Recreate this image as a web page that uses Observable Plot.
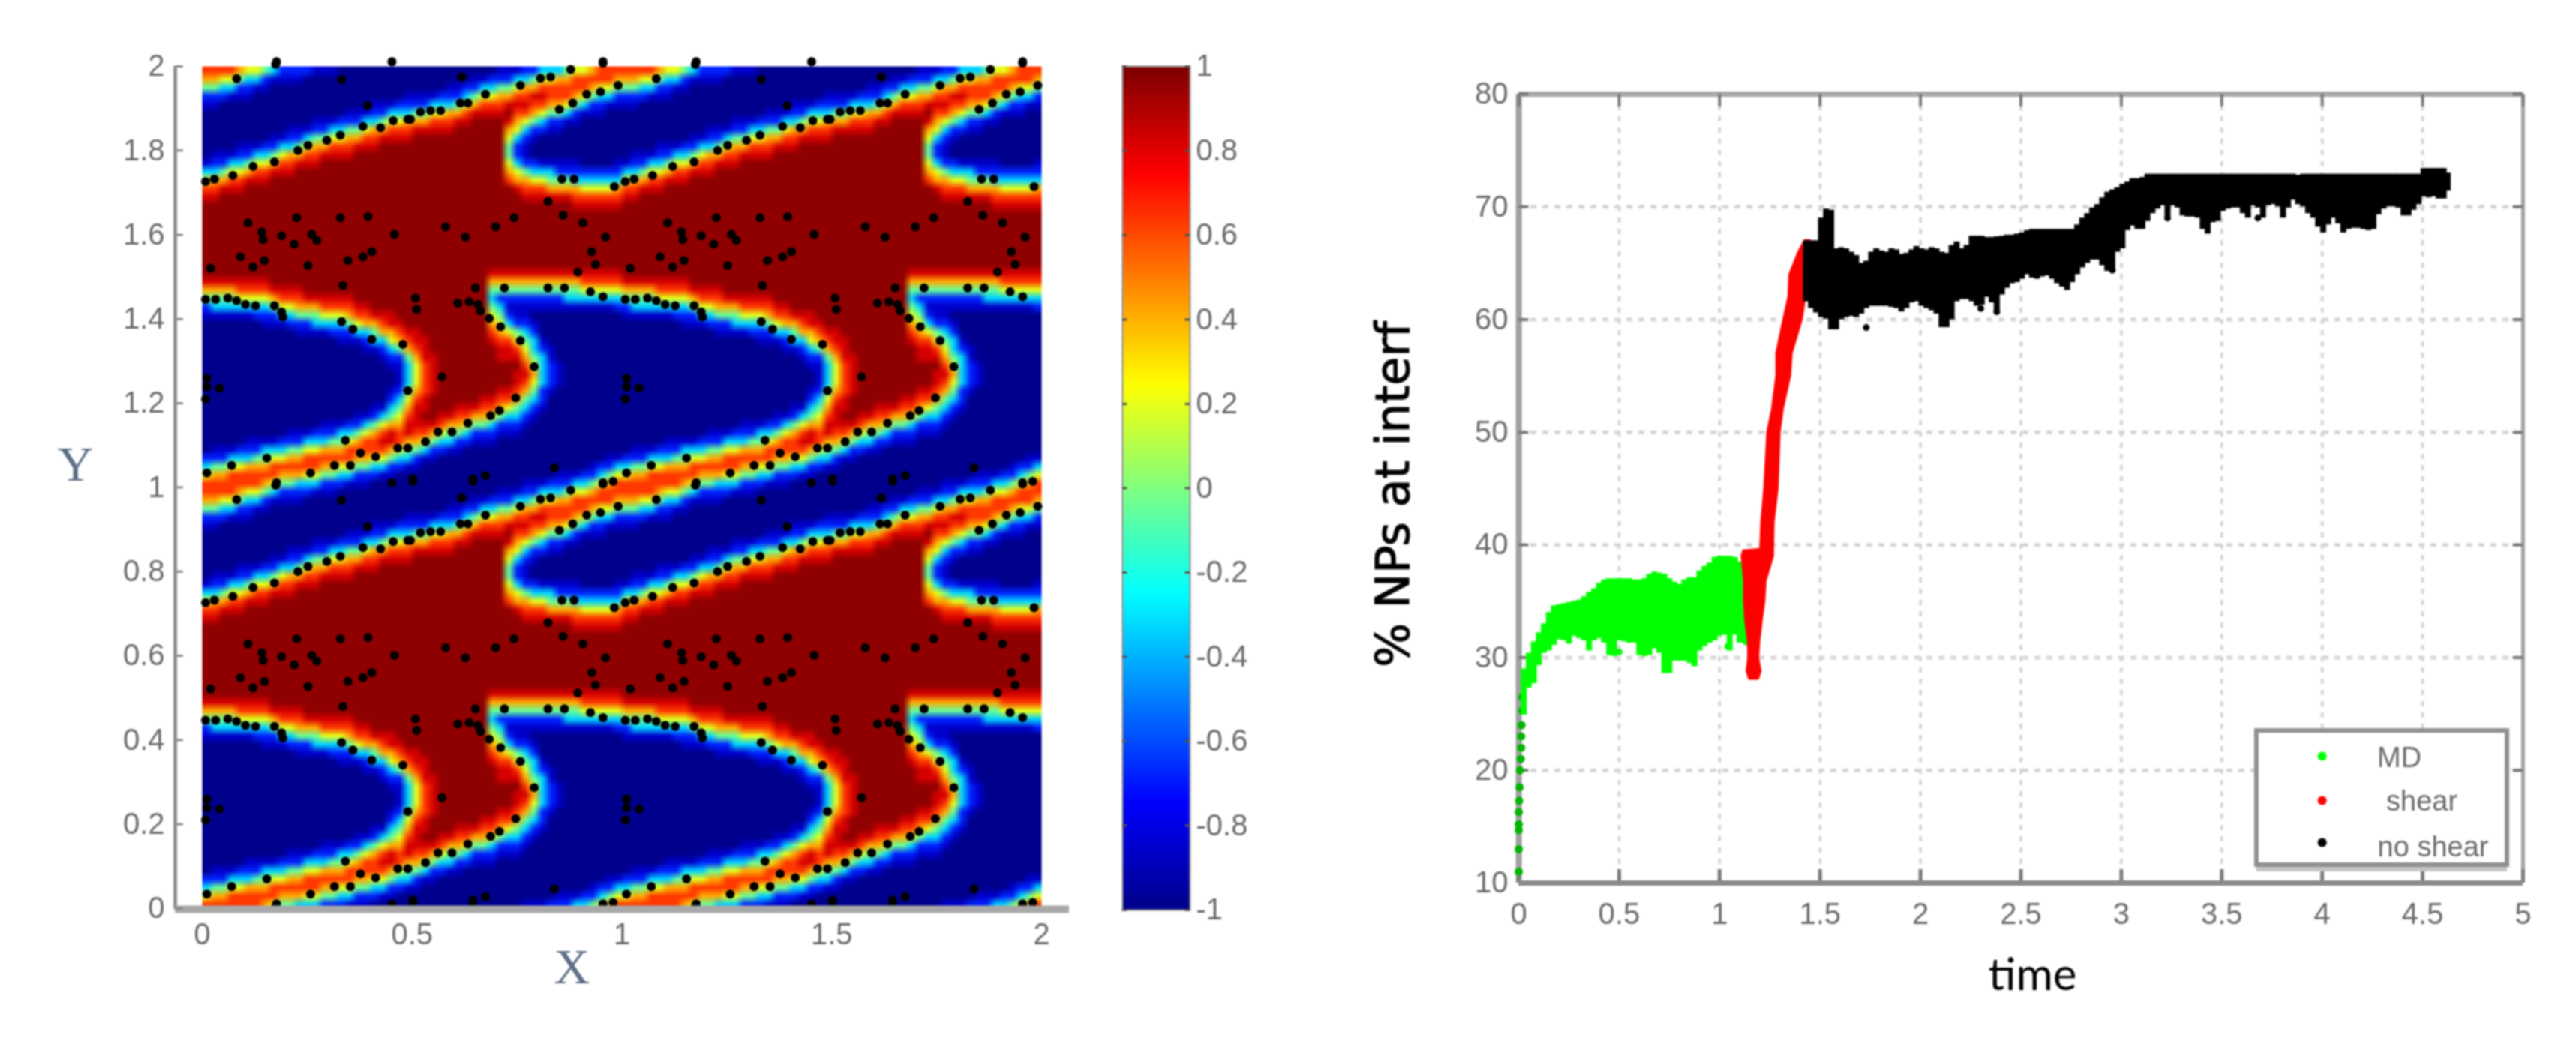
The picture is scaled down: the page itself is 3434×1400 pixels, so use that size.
<!DOCTYPE html>
<html>
<head>
<meta charset="utf-8">
<style>
  html, body { margin: 0; padding: 0; background: #fff; width: 3434px; height: 1400px; overflow: hidden; }
  #page { position: relative; width: 3434px; height: 1400px; }
  #page > svg { position: absolute; top: 0; filter: blur(1.2px); }
</style>
<script src="https://cdn.jsdelivr.net/npm/d3@7"></script>
<script src="https://cdn.jsdelivr.net/npm/@observablehq/plot@0.6"></script>
</head>
<body>
<div id="page"></div>
<script>
// ---- left panel: one repeating tile of the field, read column by column (x = .01, .03 ... .99),
// each column from y = .01 up to y = .99, as levels 0-9 ("0*15" = fifteen 0s)
const heatColumns = [
"75320 0*15 12468 9*9 87531 0*6 12467",
"76421 0*15 13468 9*9 876321 0*5 12467",
"76421 0*15 13468 9*10 86421 0*6 2357",
"77531 0*15 13468 9*10 87531 0*6 1357",
"77532 0*15 13578 9*10 875321 0*5 1246",
"776321 0*14 13578 9*11 86421 0*5 1235",
"776421 0*14 23578 9*11 87531 0*6 135",
"676431 0*13 123578 9*11 87532 0*6 124",
"577531 0*13 12468 9*13 86421 0*6 13",
"467532 0*13 13578 9*13 87531 0*6 12",
"4676421 0*12 23578 9*13 876321 0*5 12",
"3676421 0*11 124678 9*14 86421 0*5 12",
"3577531 0*11 12468 9*15 87531 0*6 2",
"3577532 0*11 13468 9*15 876421 0*5 1",
"24676321 0*10 13578 9*16 86421 0*5 1",
"24676421 0*10 23578 9*16 87531 0*5 1",
"23576431 0*9 123578 9*16 87532 0*6",
"13577532 0*9 124678 9*16 876421 0*5",
"124676421 0*8 13578 9*18 86421 0*5",
"124677531 0*7 123678 9*18 87531 0*5",
"0235776421 0*6 13468 9*19 876321 0*4",
"0135787531 0*5 123678 9*20 86421 0*4",
"012468864321 00 1235688 9*20 87531 0*4",
"0023577654321 11 2 4678 9*21 87532 0*4",
"0013468876543334678 9*22 876321 000",
"0012467888765556788 9*23 86421 000",
"000135789887777888 9*24 86421 000",
"0001246899988888 9*26 87531 000",
"0000 23578 9*33 87532 000",
"0000 13468 9*33 876321 00",
"0000 124678 9*33 86421 00",
"00000 23578 9*33 87532 00",
"00000 12468 9*34 86421 0",
"00000 124678 9*33 87531 0",
"00000 123578 9*6 876543468 9*18 87532 0",
"000000 124678 999 88765 432468 9*18 876421",
"000000 1235789 99 88753212468 9*10 76544568986 421",
"00000 012346788 9 87542112468 9*9 865322356787531",
"1000000 123467 87654321 12468 9*8 8764211235787632",
"10000000 123456543321012468 9*8 8753200124678642",
"100000000 122333321 000 12468 9*8 8753100023578753",
"20000000000 122211 0000 12468 9*8 8643100012467753",
"210000000000 111 0*6 12468 9*8 8642100012467763",
"21 0*19 13468 9*8 8642100001357764",
"310 0*18 13468 9*7 87632100001246775",
"320 0*18 13578 9*7 87532000000135775",
"421 0*18 13578 9*7 87532 0*6 124676",
"532 0*18 13578 9*7 87532 0*6 123577",
"6421 0*17 13578 9*7 87532 0*7 13577",
"75310 0*16 23578 9*7 876321 0*6 12467"
];
const levelValues = [-1, -0.86, -0.68, -0.34, -0.05, 0.2, 0.42, 0.64, 0.83, 0.97];
const jetDomain = [-1, -0.75, -0.25, 0.25, 0.75, 1];
const jetRange = ["#00008c", "#0000ff", "#00ffff", "#ffff00", "#ff0000", "#800000"];

// particles of one tile [x, y]
const tileParticles = [
[.008,.726],[.029,.732],[.073,.741],[.121,.762],[.172,.773],[.228,.800],[.252,.812],[.297,.824],[.329,.836],[.383,.857],[.425,.854],[.455,.871],[.490,.874],
[.175,.005],[.082,.971],[.332,.969],[.394,.907],[.452,.011],
[.109,.628],[.142,.607],[.145,.589],[.189,.598],[.225,.640],[.261,.601],[.273,.587],[.219,.578],[.329,.640],[.395,.643],[.458,.601],[.404,.560],[.383,.548],[.091,.548],[.148,.539],[.121,.524],[.020,.521],[.252,.527],[.347,.539],
[.496,.874],[.520,.892],[.544,.895],[.568,.895],[.615,.913],[.633,.913],[.675,.934],[.758,.955],[.806,.972],[.830,.975],[.878,.993],[.955,.008],[.618,.975],[.502,.014],[.645,.014],
[.916,.934],[.949,.940],[.991,.955],[.883,.913],[.851,.898],[.857,.732],[.886,.732],[.982,.714],
[.580,.619],[.627,.595],[.699,.619],[.743,.640],[.824,.679],[.860,.646],[.907,.628],[.961,.595],[.928,.560],[.937,.530],[.895,.512],
[.335,.480],[.008,.447],[.032,.447],[.061,.450],[.082,.444],[.103,.435],[.127,.432],[.172,.432],[.189,.417],[.192,.405],[.332,.394],[.359,.376],[.404,.352],[.478,.340],[.490,.230],
[.011,.260],[.011,.239],[.041,.236],[.008,.210],
[.341,.112],[.377,.082],[.413,.073],[.466,.094],[.315,.052],[.353,.052],[.258,.034],[.154,.070],[.070,.052],[.011,.034],[.177,.011],
[.508,.450],[.511,.423],[.609,.438],[.636,.441],[.657,.435],[.663,.420],[.651,.474],[.720,.474],[.824,.474],[.863,.474],[.684,.402],[.711,.382],[.758,.349],[.791,.287],[.747,.213],[.708,.183],[.687,.171],[.633,.153],[.595,.132],[.562,.132],[.532,.109],[.490,.094],[.571,.263],[.955,.453],[.925,.465],
[.502,.020],[.645,.020],[.675,.028],[.839,.046],[.955,.011],[.979,.014]
];

const heatXTicks = [0, 0.5, 1, 1.5, 2];
const heatYTicks = [0, 0.2, 0.4, 0.6, 0.8, 1, 1.2, 1.4, 1.6, 1.8, 2];
const colorbarTicks = [-1, -0.8, -0.6, -0.4, -0.2, 0, 0.2, 0.4, 0.6, 0.8, 1];

// ---- right panel: read spans of each cloud [time, low, high]
const mdSpans = [
[.025,24.9,29.0],[.05,27.3,30.4],[.075,27.7,31.4],[.1,29.3,32.2],[.125,30.4,33.0],[.15,30.6,34.0],[.175,31.1,34.6],[.2,31.6,34.7],[.225,31.5,34.8],[.25,31.2,34.9],
[.275,31.9,35.0],[.3,31.7,35.1],[.325,31.5,35.4],[.35,30.6,35.8],[.375,31.5,36.1],[.4,31.7,36.6],[.425,31.3,36.9],[.45,30.2,37.0],[.475,30.1,37.0],[.5,31.5,37.0],
[.525,31.4,37.0],[.55,31.3,37.0],[.575,31.3,36.9],[.6,30.2,36.9],[.625,30.1,37.0],[.65,30.2,37.4],[.675,30.8,37.6],[.7,30.4,37.5],[.725,28.6,37.4],[.75,28.6,37.0],
[.775,29.7,36.7],[.8,29.7,36.5],[.825,29.7,36.9],[.85,29.5,37.1],[.875,29.2,37.1],[.9,30.6,37.7],[.925,31.0,38.1],[.95,31.3,38.4],[.975,31.5,38.9],[1.0,31.9,39.0],
[1.025,32.0,39.0],[1.05,30.6,39.0],[1.075,32.0,38.9],[1.1,31.3,38.5],[1.125,31.3,38.1]
];
const mdRamp = [[0,11],[0,13],[0,14.7],[0,15.2],[0,16.3],[.002,17.3],[.004,18.5],[.006,20],[.01,21],[.012,22],[.012,23],[.014,24],[.018,25.3],[.018,26.5]];
// shear: [level, left time, right time]
const shearRows = [
[28.1,1.149,1.193],[28.8,1.137,1.205],[29.95,1.145,1.193],[31.5,1.143,1.199],[33.3,1.13,1.211],[35,1.124,1.224],[36.8,1.124,1.23],[37.9,1.118,1.249],[39,1.112,1.267],[39.46,1.12,1.267],[39.6,1.205,1.267],
[42,1.21,1.27],[45,1.225,1.29],[50,1.24,1.30],[52,1.263,1.315],[55,1.285,1.352],[57,1.285,1.36],[60,1.32,1.41],[62,1.345,1.427],[64,1.35,1.43],[66,1.395,1.44],[67,1.425,1.45]
];
const noShearSpans = [
[1.43,61.6,67.0],[1.455,61.0,67.0],[1.48,60.6,67.0],[1.505,60.2,69.0],[1.53,60.05,69.8],[1.555,59.1,69.7],[1.58,59.1,66.3],[1.605,60.0,66.4],[1.63,60.2,66.3],[1.655,60.3,66.0],
[1.68,60.2,65.7],[1.705,60.5,65.0],[1.73,61.0,65.2],[1.755,61.2,66.0],[1.78,61.2,66.3],[1.805,61.2,66.1],[1.83,61.2,66.0],[1.855,61.1,66.3],[1.88,61.0,66.2],[1.905,60.7,65.8],
[1.93,61.0,65.9],[1.955,61.5,66.2],[1.98,61.6,66.5],[2.005,61.2,66.3],[2.03,61.0,66.2],[2.055,60.8,66.4],[2.08,60.5,66.3],[2.105,59.3,66.0],[2.13,59.3,65.9],[2.155,60.0,66.6],
[2.18,61.6,66.9],[2.205,61.8,66.3],[2.23,61.8,66.6],[2.255,61.6,67.4],[2.28,61.2,67.4],[2.305,61.3,67.4],[2.33,62.0,67.3],[2.355,61.5,67.3],[2.38,60.7,67.35],[2.405,62.2,67.4],
[2.43,62.8,67.5],[2.455,63.2,67.5],[2.48,63.3,67.6],[2.505,63.6,67.7],[2.53,64.0,67.9],[2.555,63.7,68.0],[2.58,63.6,68.0],[2.605,63.8,68.0],[2.63,63.9,68.0],[2.655,63.6,68.0],
[2.68,63.2,68.0],[2.705,62.9,68.0],[2.73,62.6,68.0],[2.755,63.3,68.0],[2.78,64.0,68.4],[2.805,64.6,69.0],[2.83,65.0,69.4],[2.855,65.3,69.9],[2.88,65.3,70.2],[2.905,64.8,70.8],
[2.93,64.3,71.3],[2.955,64.5,71.5],[2.98,66.0,71.7],[3.005,66.3,72.0],[3.03,67.9,72.2],[3.055,68.3,72.5],[3.08,68.0,72.5],[3.105,68.0,72.6],[3.13,68.7,72.9],[3.155,69.4,72.9],
[3.18,69.8,72.9],[3.205,70.1,72.9],[3.23,69.1,72.9],[3.255,70.1,72.9],[3.28,69.9,72.9],[3.305,69.2,72.9],[3.33,69.1,72.9],[3.355,69.1,72.9],[3.38,69.0,72.9],[3.405,68.0,72.9],
[3.43,67.6,72.9],[3.455,68.6,72.9],[3.48,68.7,72.9],[3.505,69.6,72.9],[3.53,69.8,72.9],[3.555,69.9,72.9],[3.58,69.9,72.9],[3.605,69.4,72.9],[3.63,69.0,72.9],[3.655,70.1,72.9],
[3.68,69.9,72.9],[3.705,69.0,72.9],[3.73,70.1,72.9],[3.755,70.2,72.9],[3.78,70.0,72.9],[3.805,69.0,72.9],[3.83,69.9,72.9],[3.855,70.6,72.9],[3.88,70.2,72.8],[3.905,70.0,72.9],
[3.93,69.4,72.9],[3.955,69.0,72.9],[3.98,68.2,72.9],[4.005,67.7,72.9],[4.03,68.4,72.9],[4.055,69.0,72.9],[4.08,68.5,72.9],[4.105,67.7,72.9],[4.13,68.0,72.9],[4.155,68.1,72.9],
[4.18,68.1,72.9],[4.205,68.0,72.9],[4.23,67.9,72.9],[4.255,68.0,72.9],[4.28,69.3,72.9],[4.305,69.8,72.9],[4.33,70.0,72.9],[4.355,70.0,72.9],[4.38,69.9,72.9],[4.405,69.2,72.9],
[4.43,69.2,72.9],[4.455,69.7,72.9],[4.48,70.2,72.9],[4.505,70.9,73.4],[4.53,70.8,73.4],[4.555,70.9,73.4],[4.58,70.7,73.4],[4.605,70.7,73.4],[4.625,71.4,73.0]
];
const noShearStray = [[1.73,59.3],[3.23,69.0],[3.68,69.0],[2.955,64.4],[2.30,61.0],[2.38,60.7]];
const mdStray = [[1.04,31.0],[1.13,31.4],[.5,30.5]];
const timeTicks = [0, 0.5, 1, 1.5, 2, 2.5, 3, 3.5, 4, 4.5, 5];
const percentTicks = [10, 20, 30, 40, 50, 60, 70, 80];
const legendNames = ["MD", "shear", "no shear"];
const legendColors = ["#00ff00", "#ff0000", "#000000"];

// ---- build tables
const expand = s => s.split(" ").map(t => t.includes("*") ? t[0].repeat(+t.slice(2)) : t).join("");
const tile = heatColumns.map(expand);
const heatValues = [];
for (let r = 99; r >= 0; r--) for (let c = 0; c < 100; c++) heatValues.push(levelValues[+tile[c % 50][r % 50]]);
const particles = [];
for (const [x, y] of tileParticles) for (const ox of [0, 1]) for (const oy of [0, 1, 2]) {
  if (y + oy <= 2.012) particles.push({x: x + ox, y: y + oy});
}
const colorbarValues = d3.range(127, -1, -1).map(i => -1 + 2 * i / 127);

const textGray = "#6a6a6a", font = "Liberation Sans";
const jet = {type: "linear", domain: jetDomain, range: jetRange, interpolate: "rgb", clamp: true};
const page = document.getElementById("page");

// ---- field panel
const heat = Plot.plot({
  width: 1460, height: 1400, marginLeft: 233, marginRight: 35, marginTop: 88, marginBottom: 188,
  x: {domain: [-0.0643, 2.066]}, y: {domain: [-0.002, 2]}, color: jet,
  style: {fontFamily: font, color: textGray, background: "transparent"},
  marks: [
    Plot.raster(heatValues, {width: 100, height: 100, x1: 0, x2: 2, y1: 2, y2: 0, imageRendering: "auto"}),
    Plot.dot(particles, {x: "x", y: "y", r: 6, fill: "#000"}),
    Plot.ruleX([-0.0643], {stroke: "#8f8f8f", strokeWidth: 5}),
    Plot.ruleY([-0.002], {stroke: "#a8a8a8", strokeWidth: 10}),
    Plot.ruleY(heatYTicks, {x1: -0.0643, x2: -0.045, stroke: "#8a8a8a", strokeWidth: 3}),
    Plot.axisX(heatXTicks, {tickSize: 0, tickPadding: 18, fontSize: 40, tickFormat: String, label: null}),
    Plot.axisY(heatYTicks, {tickSize: 0, tickPadding: 14, fontSize: 40, tickFormat: String, label: null}),
    Plot.text(["X"], {x: 0.881, y: -0.14, fontSize: 66, fontFamily: "Liberation Serif", fill: "#5c6f86"}),
    Plot.text(["Y"], {x: -0.302, y: 1.053, fontSize: 66, fontFamily: "Liberation Serif", fill: "#5c6f86"})
  ]
});
heat.style.left = "0px";
page.append(heat);

// ---- colour bar
const cbar = Plot.plot({
  width: 300, height: 1400, marginLeft: 36, marginRight: 174, marginTop: 88, marginBottom: 187,
  x: {domain: [0, 1], axis: null}, y: {domain: [-1, 1]}, color: jet,
  style: {fontFamily: font, color: textGray, background: "transparent"},
  marks: [
    Plot.raster(colorbarValues, {width: 1, height: 128, x1: 0, x2: 1, y1: 1, y2: -1, imageRendering: "auto"}),
    Plot.frame({stroke: "#8e8e8e", strokeWidth: 2}),
    Plot.ruleY(colorbarTicks, {x1: 0, x2: 0.07, stroke: "#555", strokeWidth: 3}),
    Plot.ruleY(colorbarTicks, {x1: 0.93, x2: 1, stroke: "#555", strokeWidth: 3}),
    Plot.axisY(colorbarTicks, {anchor: "right", tickSize: 0, tickPadding: 8, fontSize: 40, tickFormat: String, label: null})
  ]
});
cbar.style.left = "1460px";
page.append(cbar);

// ---- time series
const series = Plot.plot({
  width: 1654, height: 1400, marginLeft: 244, marginRight: 71, marginTop: 125, marginBottom: 223,
  x: {domain: [0, 5]}, y: {domain: [10, 80]},
  style: {fontFamily: font, color: textGray, background: "transparent"},
  marks: [
    Plot.ruleY(percentTicks.slice(1, -1), {stroke: "#d6d6d6", strokeWidth: 5, strokeDasharray: "8,8"}),
    Plot.ruleX(timeTicks.slice(1, -1), {stroke: "#d6d6d6", strokeWidth: 4, strokeDasharray: "7,8"}),
    Plot.ruleY([80], {stroke: "#a8a8a8", strokeWidth: 7}),
    Plot.ruleX([0], {stroke: "#a0a0a0", strokeWidth: 8}),
    Plot.ruleX([5], {stroke: "#a0a0a0", strokeWidth: 5}),
    Plot.ruleX(timeTicks, {y1: 10, y2: 11.2, stroke: "#7a7a7a", strokeWidth: 5}),
    Plot.ruleX(timeTicks, {y1: 78.9, y2: 80, stroke: "#7a7a7a", strokeWidth: 4}),
    Plot.ruleY(percentTicks, {x1: 0, x2: 0.05, stroke: "#7a7a7a", strokeWidth: 4}),
    Plot.ruleY(percentTicks, {x1: 4.95, x2: 5, stroke: "#7a7a7a", strokeWidth: 4}),
    Plot.ruleY([10], {stroke: "#8a8a8a", strokeWidth: 7}),
    Plot.dot(mdRamp, {x: d => d[0], y: d => d[1], r: 5.5, fill: "#00b400"}),
    Plot.ruleX(mdSpans, {x: d => d[0], y1: d => d[1], y2: d => d[2], stroke: "#00ff00", strokeWidth: 8}),
    Plot.dot(mdStray, {x: d => d[0], y: d => d[1], r: 4.5, fill: "#00ff00"}),
    Plot.areaX(shearRows, {y: d => d[0], x1: d => d[1], x2: d => d[2], fill: "#ff0000", stroke: "#ff0000", strokeWidth: 3}),
    Plot.ruleX(noShearSpans, {x: d => d[0], y1: d => d[1], y2: d => d[2], stroke: "#000", strokeWidth: 8}),
    Plot.dot(noShearStray, {x: d => d[0], y: d => d[1], r: 4.5, fill: "#000"}),
    Plot.axisX(timeTicks, {tickSize: 0, tickPadding: 26, fontSize: 40, tickFormat: String, label: null}),
    Plot.axisY(percentTicks, {tickSize: 0, tickPadding: 14, fontSize: 40, tickFormat: String, label: null}),
    Plot.text(["time"], {x: 2.558, y: 1.8, fontSize: 60, fontFamily: "Lato", fill: "#000"}),
    Plot.text(["% NPs at interf"], {x: -0.62, y: 44.5, rotate: -90, fontSize: 62, fontFamily: "DejaVu Sans", fill: "#000", stroke: "#000", strokeWidth: 1.2}),
    // legend
    Plot.rect([0], {x1: 3.674, x2: 4.922, y1: 11.0, y2: 11.6, fill: "#c4c4c4"}),
    Plot.rect([0], {x1: 3.674, x2: 4.922, y1: 11.6, y2: 23.5, fill: "#fff", stroke: "#8f8f8f", strokeWidth: 6}),
    Plot.dot(legendNames, {x: 4, y: (d, i) => [21.24, 17.32, 13.59][i], r: 6, fill: (d, i) => legendColors[i]}),
    Plot.text(legendNames, {x: (d, i) => [4.384, 4.496, 4.552][i], y: (d, i) => [21.1, 17.2, 13.2][i], fontSize: 38})
  ]
});
series.style.left = "1780px";
page.append(series);
</script>
</body>
</html>
